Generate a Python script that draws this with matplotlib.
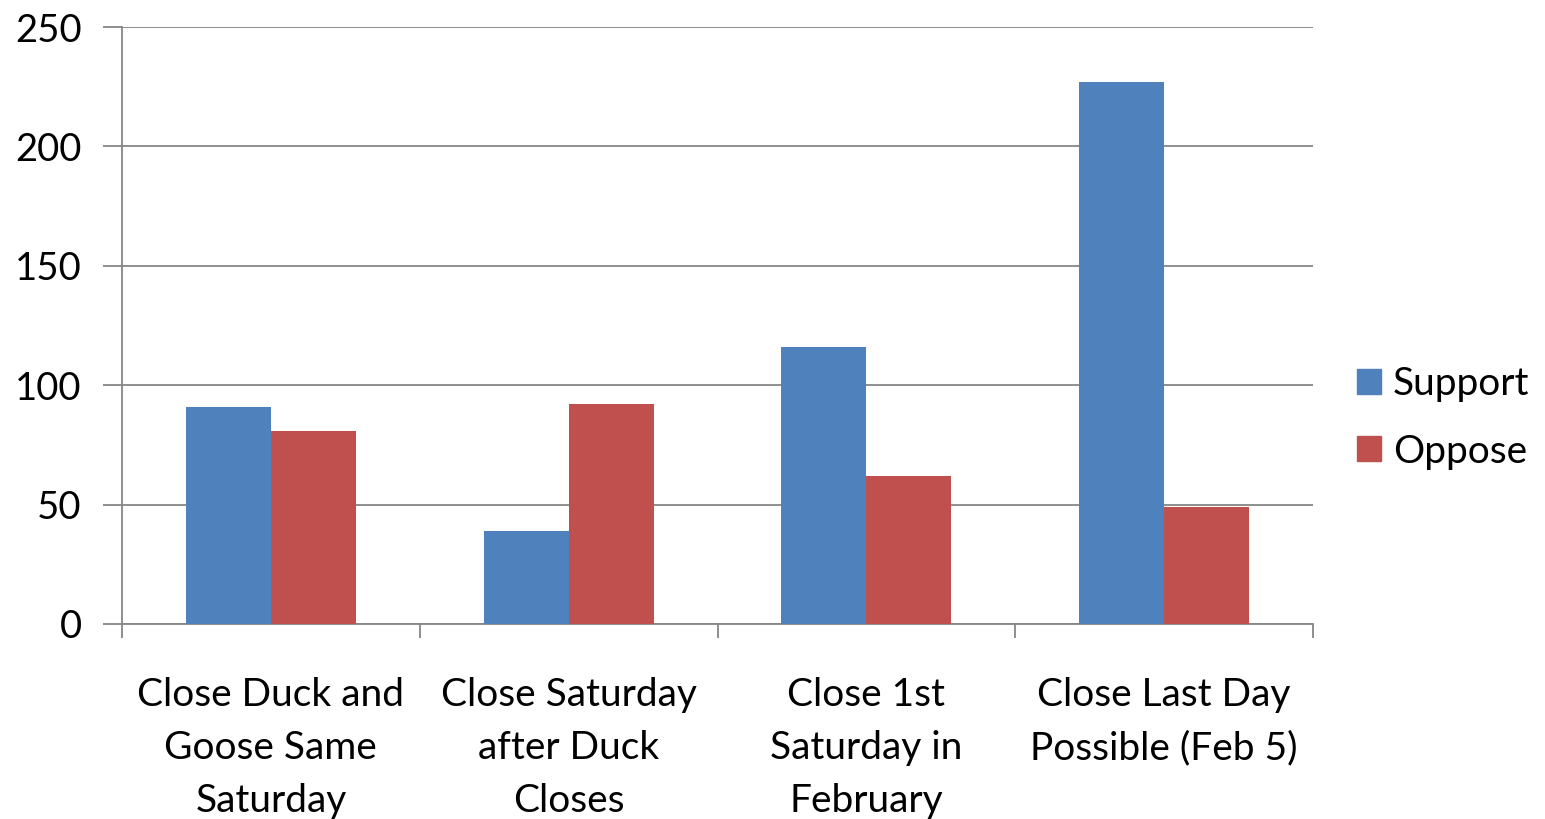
import numpy as np
import matplotlib.pyplot as plt
from matplotlib.patches import Patch

categories = ['Close Duck and\nGoose Same\nSaturday', 'Close Saturday\nafter Duck\nCloses',
              'Close 1st\nSaturday in\nFebruary', 'Close Last Day\nPossible (Feb 5)']
support = [91, 39, 116, 227]
oppose = [81, 92, 62, 49]

plt.rcParams['font.family'] = ['Lato', 'DejaVu Sans']

fig = plt.figure(figsize=(15.45, 8.19), dpi=100)
ax = fig.add_axes([122/1545, 1-624/819, (1313-122)/1545, (624-27)/819])

x = np.arange(len(categories))
w = 1/3.5
ax.bar(x - w/2, support, w, color='#4F81BD', zorder=3)
ax.bar(x + w/2, oppose, w, color='#C0504D', zorder=3)

ax.set_xlim(-0.5, 3.5)
ax.set_ylim(0, 250)
ax.set_yticks(range(0, 251, 50))
ax.yaxis.grid(True, color='#868686', linewidth=1.3, zorder=0)
ax.tick_params(axis='y', length=14, color='#868686', width=1.3, labelsize=27.5, pad=15)

ax.set_xticks(np.arange(-0.5, 3.6, 1))
ax.set_xticklabels([])
ax.tick_params(axis='x', length=10, color='#868686', width=1.3)
for i, lab in enumerate(categories):
    ax.text(i, -22, lab, ha='center', va='top', fontsize=28, linespacing=1.6,
            transform=ax.transData)

for s in ['top', 'right']:
    ax.spines[s].set_visible(False)
for s in ['left', 'bottom']:
    ax.spines[s].set_color('#868686')
    ax.spines[s].set_linewidth(1.3)

handles = [Patch(color='#4F81BD', label='Support'), Patch(color='#C0504D', label='Oppose')]
fig.legend(handles=handles, loc='center left', bbox_to_anchor=(1330/1545, 1-418/819),
           frameon=False, fontsize=28, handlelength=0.62, handleheight=0.62,
           handletextpad=0.3, labelspacing=0.8, borderpad=0.2)

fig.savefig('out.png', dpi=100)
